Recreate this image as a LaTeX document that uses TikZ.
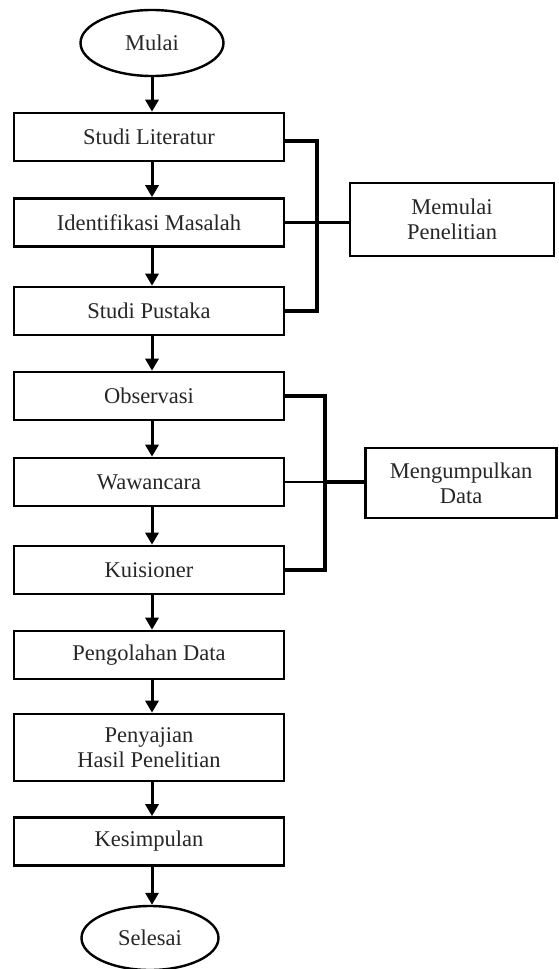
\documentclass[tikz,border=0pt]{standalone}
\usepackage{fontspec}
\setmainfont{Liberation Serif}
\usetikzlibrary{shapes.geometric,arrows.meta}

\begin{document}
\begin{tikzpicture}[x=1pt,y=-1pt,
  teks/.style={font=\fontsize{22.5}{25}\selectfont, align=center, text=black!85},
  proses/.style={teks, draw, rectangle, line width=2.6pt, minimum width=270pt, minimum height=48pt, inner sep=0pt},
  terminal/.style={teks, draw, ellipse, line width=2.4pt, minimum width=143pt, minimum height=66pt, inner sep=0pt},
  tujuan/.style={teks, draw, rectangle, line width=2.6pt, inner sep=0pt},
  alur/.style={line width=3pt, -{Triangle[length=12pt,width=13pt]}},
  kurung/.style={line width=3.2pt},
  tautan/.style={line width=2.4pt}]

\useasboundingbox (0,0) rectangle (558,969);

% Mulai dan selesai
\node[terminal] (mulai) at (152,43) {Mulai};
\node[terminal, minimum width=137pt, minimum height=64pt] (selesai) at (150,938) {Selesai};

% Tahapan penelitian
\node[proses] (lit) at (149,137) {Studi Literatur};
\node[proses] (ide) at (149,222.5) {Identifikasi Masalah};
\node[proses] (pus) at (149,311) {Studi Pustaka};
\node[proses] (obs) at (149,396) {Observasi};
\node[proses] (waw) at (149,482) {Wawancara};
\node[proses] (kui) at (149,570) {Kuisioner};
\node[proses] (olah) at (149,655) {Pengolahan Data};
\node[proses, minimum height=67pt] (saji) at (149,747.5) {Penyajian\\Hasil Penelitian};
\node[proses] (kes) at (149,841.5) {Kesimpulan};

% Keterangan kelompok
\node[tujuan, minimum width=204pt, minimum height=73pt] (mem) at (452,219.5) {Memulai\\Penelitian};
\node[tujuan, minimum width=191pt, minimum height=70pt] (kum) at (461,483) {Mengumpulkan\\Data};

% Alur utama
\foreach \a/\b in {mulai/lit, lit/ide, ide/pus, pus/obs, obs/waw, waw/kui, kui/olah, olah/saji, saji/kes, kes/selesai} {
    \draw[alur] (\a.south -| mulai) -- (\b.north -| mulai);
}

% Kurung kelompok
\coordinate (j1) at (317,222.5);
\coordinate (j2) at (325,482);
\draw[kurung] ([yshift=-4pt]lit.east) -| (j1) |- (pus.east);
\draw[tautan] (ide.east) -- (ide.east -| mem.west);
\draw[kurung] (obs.east) -| (j2) |- (kui.east);
\draw[tautan] (waw.east) -- (j2);
\draw[kurung] (j2) -- (waw.east -| kum.west);

\end{tikzpicture}
\end{document}
